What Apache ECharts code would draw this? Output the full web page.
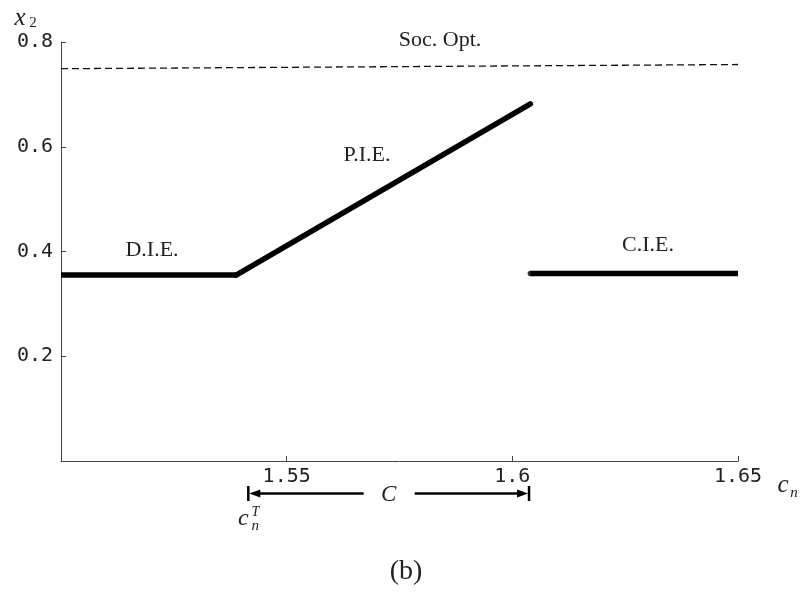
<!DOCTYPE html>
<html>
<head>
<meta charset="utf-8">
<script src="https://cdn.jsdelivr.net/npm/echarts@6/dist/echarts.min.js"></script>
<style>
  html, body { margin: 0; padding: 0; background: #fff; }
  #chart { width: 803px; height: 592px; }
</style>
</head>
<body>
<div id="chart"></div>
<script>
// Axis ranges and ticks
const xTicks = [1.50, 1.55, 1.60, 1.65];
const yTicks = [0, 0.2, 0.4, 0.6, 0.8];

// Equilibrium branches (c_n, x_2)
const dieBranch = [[1.50, 0.355], [1.5388, 0.355]];
const pieBranch = [[1.5388, 0.355], [1.604, 0.682]];
const cieBranch = [[1.604, 0.358], [1.65, 0.358]];
const socOpt = [[1.50, 0.749], [1.65, 0.757]];

// Interval C = [c_n^T, upper end]
const intervalC = [1.5415, 1.6037];

const serif = '"Liberation Serif", "DejaVu Serif", serif';
const mono = '"DejaVu Sans Mono", monospace';

const chart = echarts.init(document.getElementById('chart'), null, { renderer: 'canvas' });

function bracketItem(params, api) {
  const a = api.coord([intervalC[0], 0]);
  const b = api.coord([intervalC[1], 0]);
  const y = a[1] + 32.5;
  const mid = (a[0] + b[0]) / 2;
  const gap = 25;
  const head = 12, hw = 4;
  const lineStyle = { stroke: '#000', lineWidth: 2.5 };
  return {
    type: 'group',
    children: [
      { type: 'line', shape: { x1: a[0], y1: y - 7.5, x2: a[0], y2: y + 7.5 }, style: lineStyle },
      { type: 'line', shape: { x1: b[0], y1: y - 7.5, x2: b[0], y2: y + 7.5 }, style: lineStyle },
      { type: 'line', shape: { x1: a[0] + head - 2, y1: y, x2: mid - gap, y2: y }, style: lineStyle },
      { type: 'line', shape: { x1: mid + gap + 1, y1: y, x2: b[0] - head + 2, y2: y }, style: lineStyle },
      { type: 'polygon', shape: { points: [[a[0] + 1, y], [a[0] + head, y - hw], [a[0] + head, y + hw]] }, style: { fill: '#000' } },
      { type: 'polygon', shape: { points: [[b[0] - 1, y], [b[0] - head, y - hw], [b[0] - head, y + hw]] }, style: { fill: '#000' } },
      { type: 'text', style: { text: 'C', x: mid, y: y + 1, align: 'center', verticalAlign: 'middle', font: 'italic 23px ' + serif, fill: '#222' } },
      { type: 'text', style: { text: 'c', x: a[0] - 5, y: a[1] + 58, align: 'center', verticalAlign: 'middle', font: 'italic 24px ' + serif, fill: '#222' } },
      { type: 'text', style: { text: 'T', x: a[0] + 7, y: a[1] + 51, align: 'center', verticalAlign: 'middle', font: 'italic 14px ' + serif, fill: '#222' } },
      { type: 'text', style: { text: 'n', x: a[0] + 7, y: a[1] + 65, align: 'center', verticalAlign: 'middle', font: 'italic 15px ' + serif, fill: '#222' } }
    ]
  };
}

const option = {
  animation: false,
  backgroundColor: '#fff',
  grid: { left: 61, top: 42, width: 677, height: 419, containLabel: false },
  xAxis: {
    type: 'value',
    min: xTicks[0], max: xTicks[xTicks.length - 1], interval: 0.05,
    axisLine: { show: true, onZero: false, lineStyle: { color: '#444', width: 1 } },
    axisTick: { show: true, inside: true, length: 5, lineStyle: { color: '#444' } },
    splitLine: { show: false },
    axisLabel: {
      showMinLabel: false, margin: 6, color: '#222',
      fontFamily: mono, fontSize: 20,
      formatter: v => String(+v.toFixed(2))
    }
  },
  yAxis: {
    type: 'value',
    min: yTicks[0], max: yTicks[yTicks.length - 1], interval: 0.2,
    axisLine: { show: true, onZero: false, lineStyle: { color: '#444', width: 1 } },
    axisTick: { show: true, inside: true, length: 5, lineStyle: { color: '#444' } },
    splitLine: { show: false },
    axisLabel: {
      showMinLabel: false, margin: 8, color: '#222',
      fontFamily: mono, fontSize: 20,
      formatter: v => String(+v.toFixed(1))
    }
  },
  series: [
    {
      name: 'Soc. Opt.', type: 'line', data: socOpt, showSymbol: false, symbol: 'none',
      lineStyle: { color: '#111', width: 1.3, type: [7, 4] }
    },
    {
      name: 'D.I.E.', type: 'line', data: dieBranch, symbol: 'none',
      lineStyle: { color: '#000', width: 5.5, cap: 'butt' }
    },
    {
      name: 'P.I.E.', type: 'line', data: pieBranch, symbol: 'none',
      lineStyle: { color: '#000', width: 5.5, cap: 'round', join: 'round' }
    },
    {
      name: 'C.I.E.', type: 'line', data: cieBranch, symbol: 'none',
      lineStyle: { color: '#000', width: 5.5, cap: 'butt' }
    },
    {
      // rounded start of the C.I.E. branch
      name: 'C.I.E. start', type: 'scatter', data: [cieBranch[0]],
      symbol: 'circle', symbolSize: 5.5, itemStyle: { color: '#000' }, silent: true
    },
    {
      name: 'C', type: 'custom', clip: false, silent: true,
      data: [intervalC], renderItem: bracketItem
    }
  ],
  graphic: [
    { type: 'text', style: { text: 'Soc. Opt.', x: 440, y: 40, align: 'center', verticalAlign: 'middle', font: '22px ' + serif, fill: '#222' } },
    { type: 'text', style: { text: 'P.I.E.', x: 367, y: 155, align: 'center', verticalAlign: 'middle', font: '22px ' + serif, fill: '#222' } },
    { type: 'text', style: { text: 'D.I.E.', x: 152, y: 250, align: 'center', verticalAlign: 'middle', font: '22px ' + serif, fill: '#222' } },
    { type: 'text', style: { text: 'C.I.E.', x: 648, y: 245, align: 'center', verticalAlign: 'middle', font: '22px ' + serif, fill: '#222' } },
    { type: 'text', style: { text: 'x', x: 20, y: 18, align: 'center', verticalAlign: 'middle', font: 'italic 25px ' + serif, fill: '#222' } },
    { type: 'text', style: { text: '2', x: 33, y: 23, align: 'center', verticalAlign: 'middle', font: '15px ' + serif, fill: '#222' } },
    { type: 'text', style: { text: 'c', x: 783, y: 485, align: 'center', verticalAlign: 'middle', font: 'italic 25px ' + serif, fill: '#222' } },
    { type: 'text', style: { text: 'n', x: 794, y: 493, align: 'center', verticalAlign: 'middle', font: 'italic 15px ' + serif, fill: '#222' } },
    { type: 'text', style: { text: '(b)', x: 406, y: 572, align: 'center', verticalAlign: 'middle', font: '28px ' + serif, fill: '#222' } }
  ]
};

chart.setOption(option);
</script>
</body>
</html>
